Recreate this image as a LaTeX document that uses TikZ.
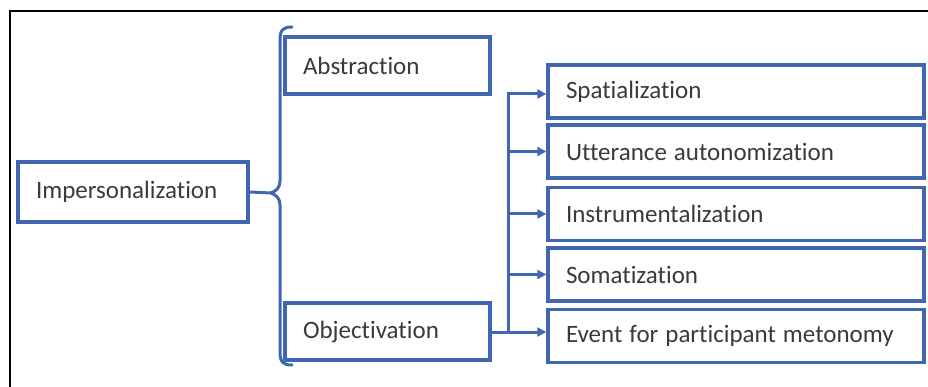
\documentclass[tikz,border=0pt]{standalone}
\usepackage{fontspec}
\setmainfont{Carlito}[Ligatures=NoCommon]
\usetikzlibrary{arrows.meta}
\definecolor{boxblue}{RGB}{64,102,178}
\definecolor{labelgray}{RGB}{58,58,58}
\begin{document}
\begin{tikzpicture}[x=1pt,y=-1pt,
  box/.style={draw=boxblue, line width=3.4pt, fill=white, inner xsep=18pt, inner ysep=0pt,
    align=left, text=labelgray, font=\fontsize{25}{30}\selectfont,
    execute at begin node={\spaceskip=7pt\relax}},
  link/.style={draw=boxblue, line width=3pt},
  arrowlink/.style={link, -{Triangle[length=9pt,width=9pt]}}]
  \useasboundingbox (0,0) rectangle (928,387);
  % outer frame
  \draw[black, line width=1.8pt] (10,387) -- (10,11) -- (928,11);

  % boxes
  \node[box, text width=194pt, minimum height=60pt] (imp) at (133,192) {Impersonalization};
  \node[box, text width=169pt, minimum height=57pt] (abs) at (387.5,65.5) {Abstraction};
  \node[box, text width=169pt, minimum height=57pt] (obj) at (387.5,331.5) {Objectivation};
  \node[box, text width=340pt, minimum height=53pt] (spa) at (736,91.5) {Spatialization};
  \node[box, text width=340pt, minimum height=53pt] (utt) at (736,151.5) {Utterance autonomization};
  \node[box, text width=340pt, minimum height=53pt] (ins) at (736,214) {Instrumentalization};
  \node[box, text width=340pt, minimum height=53pt] (som) at (736,274.5) {Somatization};
  \node[box, text width=340pt, minimum height=53pt] (evt) at (736,336) {Event for participant metonomy};

  % curly brace joining the two kinds
  \coordinate (tip) at (271,193);
  \draw[link, line cap=round]
    (292,27) .. controls (283,27) and (280,30) .. (280,40)
    -- (280,181) .. controls (280,188) and (276,191) .. (tip)
    .. controls (276,195) and (280,198) .. (280,205)
    -- (280,352) .. controls (280,362) and (283,365) .. (292,365);
  \draw[link] (imp.east) -- (tip);

  % branching bus towards the objectivation types
  \coordinate (bustop) at (508,94);
  \coordinate (busbot) at (508,332);
  \draw[link, line cap=rect] (bustop) -- (busbot);
  \draw[link] (obj.east |- busbot) -- (busbot);
  \draw[arrowlink] (bustop) -- (spa.west |- bustop);
  \draw[arrowlink] (bustop |- utt.west) -- (utt.west);
  \draw[arrowlink] (bustop |- ins.west) -- (ins.west);
  \draw[arrowlink] (bustop |- som.west) -- (som.west);
  \draw[arrowlink] (busbot) -- (evt.west |- busbot);
\end{tikzpicture}
\end{document}
